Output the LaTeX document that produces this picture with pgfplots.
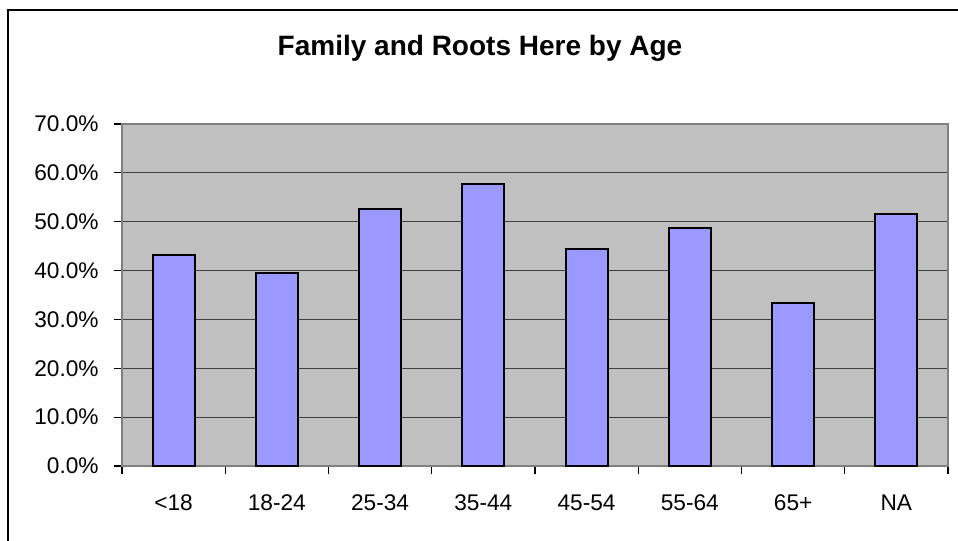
\documentclass[border=0pt]{standalone}
\usepackage{fontspec}
\setmainfont{Liberation Sans}
\usepackage{pgfplots}
\pgfplotsset{compat=1.18}
\definecolor{plotbg}{RGB}{192,192,192}
\definecolor{barfill}{RGB}{153,153,255}
\definecolor{axisgray}{RGB}{128,128,128}

\begin{document}
\begin{tikzpicture}[x=0.75pt,y=0.75pt]
\useasboundingbox (0,0) rectangle (958,540);
\draw[black, line width=1.2pt] (8,-10) rectangle (970,530);
\node[anchor=base, font=\bfseries\fontsize{21}{25}\selectfont] at (480,484) {Family and Roots Here by Age};
\begin{axis}[
    at={(91.5pt,55.5pt)}, anchor=south west,
    scale only axis,
    width=619.5pt, height=256.5pt,
    xmin=0.5, xmax=8.5,
    ymin=0, ymax=70,
    xtick={1,...,8},
    xticklabels={<18,18-24,25-34,35-44,45-54,55-64,65+,NA},
    minor xtick={0.5,1.5,...,8.5},
    xtick pos=bottom, ytick pos=left,
    major x tick style={draw=none},
    minor x tick style={black, line width=0.8pt},
    ytick={0,10,...,70},
    yticklabel={\pgfmathprintnumber[fixed,fixed zerofill,precision=1]{\tick}\%},
    /pgf/number format/assume math mode=true,
    tick align=outside,
    minor tick length=6pt,
    major tick length=6pt,
    y tick style={black, line width=0.8pt},
    tick label style={font=\fontsize{17}{20}\selectfont},
    xticklabel style={yshift=-12pt},
    yticklabel style={xshift=-8pt},
    axis background/.style={fill=plotbg},
    axis line style={axisgray, line width=1.5pt},
    ymajorgrids,
    grid style={black!75, line width=0.8pt},
    clip=false,
]
\addplot[ybar, bar width=31.5pt, fill=barfill, draw=black, line width=1.6pt]
coordinates {(1,43.1) (2,39.5) (3,52.6) (4,57.8) (5,44.4) (6,48.7) (7,33.4) (8,51.5)};
\end{axis}
\end{tikzpicture}
\end{document}
